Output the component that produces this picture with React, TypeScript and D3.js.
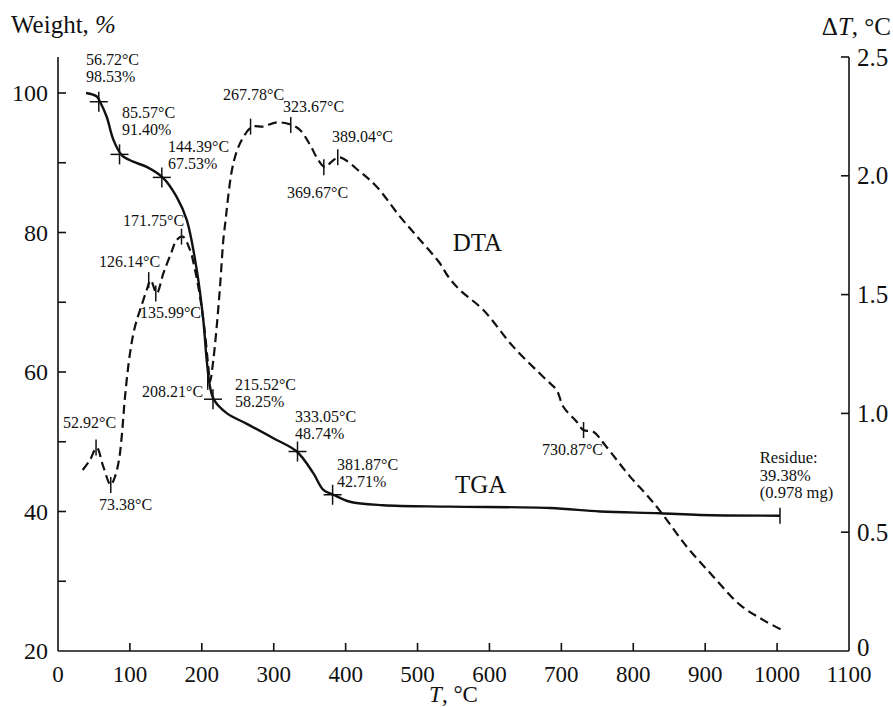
import { useEffect, useRef } from 'react';
import * as d3 from 'd3';

const WIDTH = 893;
const HEIGHT = 707;
const FONT = '"Liberation Serif", "Times New Roman", serif';
const INK = '#111';

// TGA curve: temperature (°C) and weight (%)
const tgaT = [39, 54, 58.4, 67.7, 77, 88.6, 104.7, 123.3, 146.5, 165, 179, 193, 202, 206.8, 211.4, 217, 234.6, 262, 299.5, 332, 355, 369, 383, 406, 452, 545, 684, 754, 837, 893, 1004];
const tgaW = [100, 99.5, 98.75, 96.6, 93.3, 91.1, 90.15, 89.4, 87.8, 85.1, 81.8, 74.6, 67.5, 61.7, 57.9, 56, 54.1, 52.6, 50.5, 48.6, 45.5, 43.1, 42.4, 41.4, 40.9, 40.7, 40.5, 40.0, 39.75, 39.5, 39.4];

// DTA curve: temperature (°C) and ΔT (°C)
const dtaT = [34.3, 44.5, 53.8, 63, 73.3, 79.3, 84.8, 88.6, 93.2, 100.1, 107, 116.4, 123.3, 128.9, 137.2, 146.5, 158, 165, 173.4, 183.6, 190.5, 197.5, 204.4, 209, 211.4, 216, 220.7, 225.3, 229.9, 232, 243.8, 255.5, 270.4, 285.6, 304, 325, 336.6, 350.5, 362, 371.3, 380.6, 391.3, 420, 443.2, 475.6, 503.5, 531, 542.8, 559, 591.5, 633, 679.5, 693.5, 702.7, 721.3, 730.6, 744.5, 760.7, 795.5, 818.7, 839.6, 874.4, 911.4, 948.5, 981, 1007];
const dtaD = [0.762, 0.804, 0.856, 0.776, 0.699, 0.734, 0.804, 0.902, 1.07, 1.253, 1.365, 1.456, 1.519, 1.561, 1.505, 1.589, 1.68, 1.73, 1.744, 1.688, 1.604, 1.491, 1.337, 1.197, 1.133, 1.225, 1.365, 1.533, 1.73, 1.786, 2.052, 2.151, 2.207, 2.207, 2.225, 2.214, 2.193, 2.13, 2.066, 2.036, 2.06, 2.078, 2.017, 1.954, 1.828, 1.73, 1.632, 1.575, 1.519, 1.435, 1.281, 1.14, 1.098, 1.028, 0.965, 0.93, 0.923, 0.867, 0.734, 0.657, 0.58, 0.439, 0.313, 0.194, 0.13, 0.088];

// TGA marked points
const tgaMarkT = [56.72, 85.57, 144.39, 215.52, 333.05, 381.87];
const tgaMarkW = [98.75, 91.2, 87.9, 56.1, 48.6, 42.4];
const tgaMarkText = [
  ['56.72°C', '98.53%'],
  ['85.57°C', '91.40%'],
  ['144.39°C', '67.53%'],
  ['215.52°C', '58.25%'],
  ['333.05°C', '48.74%'],
  ['381.87°C', '42.71%'],
];

// DTA marked points
const dtaMarkT = [52.92, 73.38, 126.14, 135.99, 171.75, 208.21, 267.78, 323.67, 369.67, 389.04, 730.87];
const dtaMarkD = [0.856, 0.699, 1.561, 1.505, 1.744, 1.133, 2.207, 2.214, 2.036, 2.078, 0.93];
const dtaMarkText = ['52.92°C', '73.38°C', '126.14°C', '135.99°C', '171.75°C', '208.21°C', '267.78°C', '323.67°C', '369.67°C', '389.04°C', '730.87°C'];

const residueT = 1004;
const residueW = 39.4;
const residueText = ['Residue:', '39.38%', '(0.978 mg)'];

const xTicks = [0, 100, 200, 300, 400, 500, 600, 700, 800, 900, 1000, 1100];
const wTicks = [20, 30, 40, 50, 60, 70, 80, 90, 100];
const wLabels = [20, 40, 60, 80, 100];
const dTicks = [0, 0.5, 1.0, 1.5, 2.0, 2.5];

// label anchors (text start, first baseline) in data units
const tgaLabelPos = [[38.9, 104.0], [89, 96.4], [153, 91.5], [246, 57.4], [329.6, 52.8], [388, 45.95]];
const dtaLabelPos = [[7, 0.939], [57, 0.593], [57, 1.616], [114, 1.4], [90.4, 1.789], [116.8, 1.069], [229.5, 2.319], [313, 2.268], [318.5, 1.907], [381, 2.142], [673, 0.825]];

export default function App() {
  const svgRef = useRef<SVGSVGElement>(null);

  useEffect(() => {
    if (!svgRef.current) return;
    const svg = d3.select(svgRef.current);
    svg.selectAll('*').remove();

    const x = d3.scaleLinear().domain([0, 1100]).range([58, 849]);
    const yW = d3.scaleLinear().domain([20, 100]).range([651, 93]);
    const yD = d3.scaleLinear().domain([0, 2.5]).range([651, 57]);
    const top = yD(2.5);
    const bottom = yW(20);

    const g = svg.append('g').attr('font-family', FONT).attr('fill', INK);

    // frame: left, right and bottom axis lines
    const axisLine = (x1: number, y1: number, x2: number, y2: number) =>
      g.append('line')
        .attr('x1', x1).attr('y1', y1).attr('x2', x2).attr('y2', y2)
        .attr('stroke', INK).attr('stroke-width', 1.6);
    axisLine(x(0), top, x(0), bottom);
    axisLine(x(1100), top, x(1100), bottom);
    axisLine(x(0), bottom, x(1100), bottom);

    // x ticks (inside)
    xTicks.forEach((t) => {
      if (t > 0 && t < 1100) axisLine(x(t), bottom, x(t), bottom - 8);
      g.append('text')
        .attr('x', x(t)).attr('y', bottom + 31)
        .attr('text-anchor', 'middle').attr('font-size', 23)
        .text(t);
    });
    const xt = g.append('text')
      .attr('x', (x(0) + x(1100)) / 2).attr('y', 702)
      .attr('text-anchor', 'middle').attr('font-size', 23);
    xt.append('tspan').attr('font-style', 'italic').text('T');
    xt.append('tspan').text(', °C');

    // left axis (weight)
    wTicks.forEach((t) => {
      if (t > 20) axisLine(x(0), yW(t), x(0) + 8, yW(t));
    });
    wLabels.forEach((t) => {
      g.append('text')
        .attr('x', 48).attr('y', yW(t)).attr('dy', '0.34em')
        .attr('text-anchor', 'end').attr('font-size', 24)
        .text(t);
    });
    const wt = g.append('text').attr('x', 11).attr('y', 33).attr('font-size', 25);
    wt.append('tspan').text('Weight, ');
    wt.append('tspan').attr('font-style', 'italic').text('%');

    // right axis (ΔT)
    dTicks.forEach((t) => {
      if (t > 0) axisLine(x(1100), yD(t), x(1100) - 8, yD(t));
      g.append('text')
        .attr('x', 857).attr('y', yD(t)).attr('dy', t === 0 ? '0.2em' : '0.34em')
        .attr('font-size', 25)
        .text(t === 0 ? '0' : t.toFixed(1));
    });
    const dt = g.append('text').attr('x', 891).attr('y', 35).attr('text-anchor', 'end').attr('font-size', 25);
    dt.append('tspan').text('Δ');
    dt.append('tspan').attr('font-style', 'italic').text('T');
    dt.append('tspan').text(', °C');

    // TGA curve
    const tgaLine = d3.line<number>()
      .x((_d, i) => x(tgaT[i]))
      .y((d) => yW(d))
      .curve(d3.curveCatmullRom.alpha(0.5));
    g.append('path')
      .attr('d', tgaLine(tgaW))
      .attr('fill', 'none').attr('stroke', INK).attr('stroke-width', 2.4);

    // DTA curve
    const dtaLine = d3.line<number>()
      .x((_d, i) => x(dtaT[i]))
      .y((d) => yD(d))
      .curve(d3.curveCatmullRom.alpha(0.5));
    g.append('path')
      .attr('d', dtaLine(dtaD))
      .attr('fill', 'none').attr('stroke', INK).attr('stroke-width', 2.2)
      .attr('stroke-dasharray', '9,5');

    // TGA crosses + labels
    tgaMarkT.forEach((t, i) => {
      const cx = x(t);
      const cy = yW(tgaMarkW[i]);
      g.append('line').attr('x1', cx - 9).attr('x2', cx + 9).attr('y1', cy).attr('y2', cy)
        .attr('stroke', INK).attr('stroke-width', 1.5);
      g.append('line').attr('x1', cx).attr('x2', cx).attr('y1', cy - 10).attr('y2', cy + 10)
        .attr('stroke', INK).attr('stroke-width', 1.5);
      const [lt, lw] = tgaLabelPos[i];
      tgaMarkText[i].forEach((s, j) => {
        g.append('text')
          .attr('x', x(lt)).attr('y', yW(lw) + j * 17)
          .attr('font-size', 16).text(s);
      });
    });

    // DTA ticks + labels
    dtaMarkT.forEach((t, i) => {
      const cx = x(t);
      const cy = yD(dtaMarkD[i]);
      g.append('line').attr('x1', cx).attr('x2', cx).attr('y1', cy - 8).attr('y2', cy + 8)
        .attr('stroke', INK).attr('stroke-width', 1.5);
      const [lt, ld] = dtaLabelPos[i];
      g.append('text')
        .attr('x', x(lt)).attr('y', yD(ld))
        .attr('font-size', 16).text(dtaMarkText[i]);
    });

    // residue end marker
    g.append('line')
      .attr('x1', x(residueT)).attr('x2', x(residueT))
      .attr('y1', yW(residueW) - 8).attr('y2', yW(residueW) + 8)
      .attr('stroke', INK).attr('stroke-width', 1.5);
    residueText.forEach((s, j) => {
      g.append('text')
        .attr('x', x(976)).attr('y', yW(46.95) + j * 17.5)
        .attr('font-size', 16.5).text(s);
    });

    // curve names
    g.append('text').attr('x', x(552)).attr('y', yW(42.65)).attr('font-size', 25).text('TGA');
    g.append('text').attr('x', x(549)).attr('y', yD(1.683)).attr('font-size', 25).text('DTA');
  }, []);

  return (
    <svg
      ref={svgRef}
      width={WIDTH}
      height={HEIGHT}
      style={{ position: 'absolute', left: 0, top: 0, background: '#fff' }}
    />
  );
}
